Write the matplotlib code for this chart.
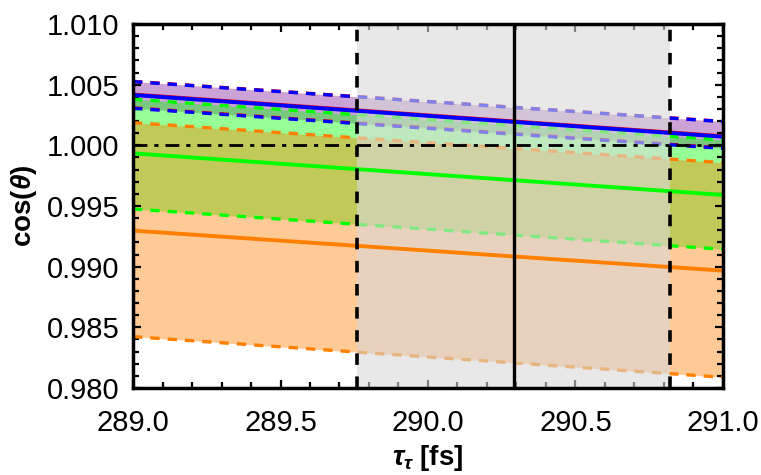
import matplotlib.pyplot as plt
import numpy as np
from matplotlib.ticker import MultipleLocator, FormatStrFormatter

plt.rcParams['font.family'] = ['Liberation Sans', 'DejaVu Sans']
plt.rcParams['mathtext.fontset'] = 'custom'
plt.rcParams['mathtext.it'] = 'Liberation Sans:italic:bold'
plt.rcParams['mathtext.rm'] = 'Liberation Sans:bold'

# tau range and endpoint values of each curve
tau = np.array([289.0, 291.0])

blue_mid = np.array([1.00415, 1.00071])
blue_hi = np.array([1.00525, 1.00195])
blue_lo = np.array([1.00305, 0.99975])

red_mid = np.array([1.00419, 1.00075])
red_hi = np.array([1.00527, 1.00197])
red_lo = np.array([1.00309, 0.99979])

green_mid = np.array([0.99934, 0.99591])
green_hi = np.array([1.00380, 1.00044])
green_lo = np.array([0.99475, 0.99143])

orange_mid = np.array([0.99297, 0.98967])
orange_hi = np.array([1.00187, 0.99857])
orange_lo = np.array([0.98423, 0.98088])

tau_lo, tau_c, tau_hi = 289.76, 290.29, 290.82

c_blue = (0, 0, 1)
c_red = (1, 0, 0)
c_green = (0, 1, 0)
c_orange = (1, 0.5, 0)

fig = plt.figure(figsize=(7.61, 4.75), dpi=100)
ax = fig.add_axes([0.1748, 0.1832, 0.7752, 0.7663])

dash = (0, (2.8, 2.4))
lw_d = 2.4
lw_s = 2.8

# bands (drawn back to front)
ax.fill_between(tau, red_lo, red_hi, color=c_red, alpha=0.2, lw=0, zorder=1)
ax.fill_between(tau, blue_lo, blue_hi, color=c_blue, alpha=0.2, lw=0, zorder=1)
ax.fill_between(tau, green_lo, green_hi, color=c_green, alpha=0.41, lw=0, zorder=1.1)
ax.fill_between(tau, orange_lo, orange_hi, color=c_orange, alpha=0.41, lw=0, zorder=1.2)

for hi, lo, c in [(orange_hi, orange_lo, c_orange), (green_hi, green_lo, c_green),
                  (red_hi, red_lo, c_red), (blue_hi, blue_lo, c_blue)]:
    ax.plot(tau, hi, color=c, lw=lw_d, linestyle=dash, zorder=2)
    ax.plot(tau, lo, color=c, lw=lw_d, linestyle=dash, zorder=2)

# uncertainty band on tau
ax.axvspan(tau_lo, tau_hi, color=(0.85, 0.85, 0.85), alpha=0.6, lw=0, zorder=3)

ax.plot(tau, orange_mid, color=c_orange, lw=lw_s, zorder=4)
ax.plot(tau, green_mid, color=c_green, lw=lw_s, zorder=4)
ax.plot(tau, red_mid, color=c_red, lw=lw_s, zorder=4)
ax.plot(tau, blue_mid, color=c_blue, lw=lw_s, zorder=4.1)

ax.axhline(1.0, color='black', lw=2.0, linestyle=(0, (5, 2.5, 1.5, 2.5)), zorder=5)
ax.axvline(tau_lo, color='black', lw=2.6, linestyle=(0, (3.2, 3.2)), zorder=5)
ax.axvline(tau_hi, color='black', lw=2.6, linestyle=(0, (3.2, 3.2)), zorder=5)
ax.axvline(tau_c, color='black', lw=2.4, zorder=5)

ax.set_xlim(289.0, 291.0)
ax.set_ylim(0.980, 1.010)
ax.xaxis.set_major_locator(MultipleLocator(0.5))
ax.xaxis.set_minor_locator(MultipleLocator(0.1))
ax.yaxis.set_major_locator(MultipleLocator(0.005))
ax.yaxis.set_minor_locator(MultipleLocator(0.001))
ax.xaxis.set_major_formatter(FormatStrFormatter('%.1f'))
ax.yaxis.set_major_formatter(FormatStrFormatter('%.3f'))

for s in ax.spines.values():
    s.set_linewidth(2.5)
    s.set_zorder(6)
ax.tick_params(which='both', direction='in', top=True, right=True,
               width=1.6, labelsize=21)
ax.tick_params(which='major', length=6, pad=10)
ax.tick_params(which='minor', length=4)
ax.tick_params(axis='x', which='major', pad=15)

# axis titles placed directly in figure coordinates
fig.text(0.562, 0.036, r'$\tau_\tau$ [fs]', fontsize=20, fontweight='bold',
         ha='center', va='center')
fig.text(0.031, 0.566, r'cos($\theta$)', fontsize=20, fontweight='bold',
         ha='center', va='center', rotation=90)

fig.savefig('out.png', dpi=100)
